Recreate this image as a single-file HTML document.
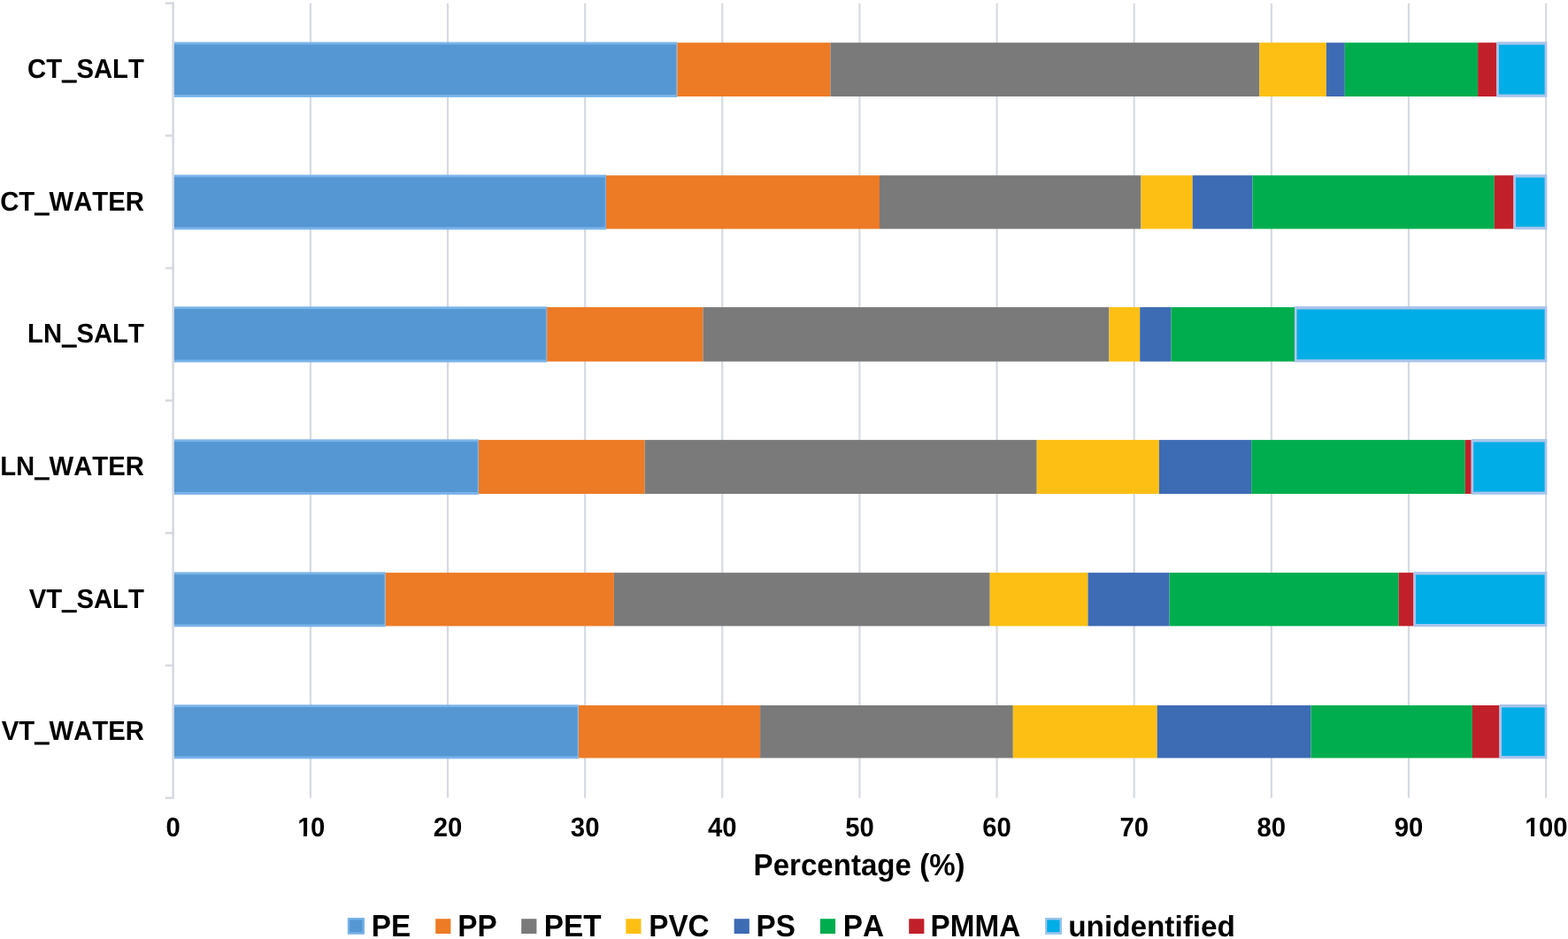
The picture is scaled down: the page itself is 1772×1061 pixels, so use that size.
<!DOCTYPE html>
<html><head><meta charset="utf-8"><title>Percentage chart</title><style>
html,body{margin:0;padding:0;background:#fff;}
body{width:1772px;height:1061px;overflow:hidden;}
svg{display:block;}
text{font-family:"Liberation Sans",Arial,sans-serif;font-weight:bold;fill:#000;font-kerning:none;font-feature-settings:"kern" 0;text-rendering:geometricPrecision;}
.cat{font-size:29.3px;}
.tick{font-size:29.3px;}
.title{font-size:33.1px;}
.leg{font-size:33.3px;}
</style></head><body>
<svg width="1772" height="1061" viewBox="0 0 1772 1061">
<rect x="0" y="0" width="1772" height="1061" fill="#ffffff"/>
<line x1="350.88" y1="3.65" x2="350.88" y2="901.60" stroke="#d6dae1" stroke-width="2.2"/>
<line x1="506.02" y1="3.65" x2="506.02" y2="901.60" stroke="#d6dae1" stroke-width="2.2"/>
<line x1="661.15" y1="3.65" x2="661.15" y2="901.60" stroke="#d6dae1" stroke-width="2.2"/>
<line x1="816.29" y1="3.65" x2="816.29" y2="901.60" stroke="#d6dae1" stroke-width="2.2"/>
<line x1="971.42" y1="3.65" x2="971.42" y2="901.60" stroke="#d6dae1" stroke-width="2.2"/>
<line x1="1126.56" y1="3.65" x2="1126.56" y2="901.60" stroke="#d6dae1" stroke-width="2.2"/>
<line x1="1281.69" y1="3.65" x2="1281.69" y2="901.60" stroke="#d6dae1" stroke-width="2.2"/>
<line x1="1436.83" y1="3.65" x2="1436.83" y2="901.60" stroke="#d6dae1" stroke-width="2.2"/>
<line x1="1591.96" y1="3.65" x2="1591.96" y2="901.60" stroke="#d6dae1" stroke-width="2.2"/>
<line x1="1747.10" y1="3.65" x2="1747.10" y2="901.60" stroke="#d6dae1" stroke-width="2.2"/>
<line x1="195.6" y1="2.45" x2="195.6" y2="902.80" stroke="#d6d9e0" stroke-width="2.6"/>
<line x1="186.9" y1="3.65" x2="196.2" y2="3.65" stroke="#d6d9e0" stroke-width="2.5"/>
<line x1="186.9" y1="153.31" x2="196.2" y2="153.31" stroke="#d6d9e0" stroke-width="2.5"/>
<line x1="186.9" y1="302.97" x2="196.2" y2="302.97" stroke="#d6d9e0" stroke-width="2.5"/>
<line x1="186.9" y1="452.62" x2="196.2" y2="452.62" stroke="#d6d9e0" stroke-width="2.5"/>
<line x1="186.9" y1="602.28" x2="196.2" y2="602.28" stroke="#d6d9e0" stroke-width="2.5"/>
<line x1="186.9" y1="751.94" x2="196.2" y2="751.94" stroke="#d6d9e0" stroke-width="2.5"/>
<line x1="186.9" y1="901.60" x2="196.2" y2="901.60" stroke="#d6d9e0" stroke-width="2.5"/>
<rect x="196.90" y="47.50" width="568.40" height="62.40" fill="#79b3e9"/>
<rect x="196.90" y="50.30" width="567.10" height="56.70" fill="#5597d3"/>
<rect x="765.30" y="48.20" width="173.20" height="60.80" fill="#ed7a25"/>
<rect x="938.50" y="48.20" width="484.80" height="60.80" fill="#7a7a7a"/>
<rect x="1423.30" y="48.20" width="75.60" height="60.80" fill="#fdbf13"/>
<rect x="1498.90" y="48.20" width="20.90" height="60.80" fill="#3d6bb4"/>
<rect x="1519.80" y="48.20" width="150.30" height="60.80" fill="#00ad4e"/>
<rect x="1670.10" y="48.20" width="21.30" height="60.80" fill="#c1202a"/>
<rect x="1691.40" y="47.20" width="56.90" height="62.60" fill="#a9c4ec"/>
<rect x="1693.90" y="50.60" width="51.70" height="56.00" fill="#00ade6"/>
<text transform="translate(31.05 88.00) scale(1 1.045)" class="cat">CT_SALT</text>
<rect x="69.81" y="90.70" width="16.9" height="2.9" fill="#000"/>
<rect x="196.90" y="197.50" width="488.10" height="62.00" fill="#79b3e9"/>
<rect x="196.90" y="200.30" width="486.80" height="56.30" fill="#5597d3"/>
<rect x="685.00" y="198.20" width="309.00" height="60.40" fill="#ed7a25"/>
<rect x="994.00" y="198.20" width="295.50" height="60.40" fill="#7a7a7a"/>
<rect x="1289.50" y="198.20" width="58.20" height="60.40" fill="#fdbf13"/>
<rect x="1347.70" y="198.20" width="67.80" height="60.40" fill="#3d6bb4"/>
<rect x="1415.50" y="198.20" width="273.30" height="60.40" fill="#00ad4e"/>
<rect x="1688.80" y="198.20" width="21.70" height="60.40" fill="#c1202a"/>
<rect x="1710.50" y="197.20" width="37.80" height="62.20" fill="#a9c4ec"/>
<rect x="1713.00" y="200.60" width="32.60" height="55.60" fill="#00ade6"/>
<text transform="translate(0.13 237.90) scale(1 1.045)" class="cat">CT_WATER</text>
<rect x="38.89" y="240.60" width="16.9" height="2.9" fill="#000"/>
<rect x="196.90" y="346.40" width="421.20" height="63.00" fill="#79b3e9"/>
<rect x="196.90" y="349.20" width="419.90" height="57.30" fill="#5597d3"/>
<rect x="618.10" y="347.10" width="176.40" height="61.40" fill="#ed7a25"/>
<rect x="794.50" y="347.10" width="458.90" height="61.40" fill="#7a7a7a"/>
<rect x="1253.40" y="347.10" width="34.80" height="61.40" fill="#fdbf13"/>
<rect x="1288.20" y="347.10" width="35.20" height="61.40" fill="#3d6bb4"/>
<rect x="1323.40" y="347.10" width="139.70" height="61.40" fill="#00ad4e"/>
<rect x="1463.10" y="346.10" width="285.20" height="63.20" fill="#a9c4ec"/>
<rect x="1465.60" y="349.50" width="280.00" height="56.60" fill="#00ade6"/>
<text transform="translate(31.05 387.04) scale(1 1.045)" class="cat">LN_SALT</text>
<rect x="69.81" y="389.74" width="16.9" height="2.9" fill="#000"/>
<rect x="196.90" y="496.40" width="344.00" height="62.50" fill="#79b3e9"/>
<rect x="196.90" y="499.20" width="342.70" height="56.80" fill="#5597d3"/>
<rect x="540.90" y="497.10" width="187.70" height="60.90" fill="#ed7a25"/>
<rect x="728.60" y="497.10" width="443.10" height="60.90" fill="#7a7a7a"/>
<rect x="1171.70" y="497.10" width="138.20" height="60.90" fill="#fdbf13"/>
<rect x="1309.90" y="497.10" width="104.30" height="60.90" fill="#3d6bb4"/>
<rect x="1414.20" y="497.10" width="241.60" height="60.90" fill="#00ad4e"/>
<rect x="1655.80" y="497.10" width="6.90" height="60.90" fill="#c1202a"/>
<rect x="1662.70" y="496.10" width="85.60" height="62.70" fill="#a9c4ec"/>
<rect x="1665.20" y="499.50" width="80.40" height="56.10" fill="#00ade6"/>
<text transform="translate(0.13 536.80) scale(1 1.045)" class="cat">LN_WATER</text>
<rect x="38.89" y="539.50" width="16.9" height="2.9" fill="#000"/>
<rect x="196.90" y="646.40" width="238.80" height="61.90" fill="#79b3e9"/>
<rect x="196.90" y="649.20" width="237.50" height="56.20" fill="#5597d3"/>
<rect x="435.70" y="647.10" width="258.20" height="60.30" fill="#ed7a25"/>
<rect x="693.90" y="647.10" width="424.80" height="60.30" fill="#7a7a7a"/>
<rect x="1118.70" y="647.10" width="110.80" height="60.30" fill="#fdbf13"/>
<rect x="1229.50" y="647.10" width="92.10" height="60.30" fill="#3d6bb4"/>
<rect x="1321.60" y="647.10" width="259.00" height="60.30" fill="#00ad4e"/>
<rect x="1580.60" y="647.10" width="16.90" height="60.30" fill="#c1202a"/>
<rect x="1597.50" y="646.10" width="150.80" height="62.10" fill="#a9c4ec"/>
<rect x="1600.00" y="649.50" width="145.60" height="55.50" fill="#00ade6"/>
<text transform="translate(32.67 686.60) scale(1 1.045)" class="cat">VT_SALT</text>
<rect x="69.81" y="689.30" width="16.9" height="2.9" fill="#000"/>
<rect x="196.90" y="796.30" width="456.90" height="61.10" fill="#79b3e9"/>
<rect x="196.90" y="799.10" width="455.60" height="55.40" fill="#5597d3"/>
<rect x="653.80" y="797.00" width="205.30" height="59.50" fill="#ed7a25"/>
<rect x="859.10" y="797.00" width="285.70" height="59.50" fill="#7a7a7a"/>
<rect x="1144.80" y="797.00" width="162.90" height="59.50" fill="#fdbf13"/>
<rect x="1307.70" y="797.00" width="173.80" height="59.50" fill="#3d6bb4"/>
<rect x="1481.50" y="797.00" width="182.50" height="59.50" fill="#00ad4e"/>
<rect x="1664.00" y="797.00" width="30.50" height="59.50" fill="#c1202a"/>
<rect x="1694.50" y="796.00" width="53.80" height="61.30" fill="#a9c4ec"/>
<rect x="1697.00" y="799.40" width="48.60" height="54.70" fill="#00ade6"/>
<text transform="translate(1.75 835.90) scale(1 1.045)" class="cat">VT_WATER</text>
<rect x="38.89" y="838.60" width="16.9" height="2.9" fill="#000"/>
<text transform="translate(187.60 945.3) scale(1 1.045)" class="tick">0</text>
<text transform="translate(334.59 945.3) scale(1 1.045)" class="tick"><tspan dx="1.572">1</tspan><tspan dx="-1.572">0</tspan></text>
<rect x="337" y="941.18" width="6" height="5.12" fill="#fff"/>
<rect x="347" y="941.18" width="5" height="5.12" fill="#fff"/>
<text transform="translate(489.72 945.3) scale(1 1.045)" class="tick">20</text>
<text transform="translate(644.86 945.3) scale(1 1.045)" class="tick">30</text>
<text transform="translate(799.99 945.3) scale(1 1.045)" class="tick">40</text>
<text transform="translate(955.13 945.3) scale(1 1.045)" class="tick">50</text>
<text transform="translate(1110.26 945.3) scale(1 1.045)" class="tick">60</text>
<text transform="translate(1265.40 945.3) scale(1 1.045)" class="tick">70</text>
<text transform="translate(1420.53 945.3) scale(1 1.045)" class="tick">80</text>
<text transform="translate(1575.67 945.3) scale(1 1.045)" class="tick">90</text>
<text transform="translate(1722.66 945.3) scale(1 1.045)" class="tick"><tspan dx="0.504">1</tspan><tspan dx="-0.504">00</tspan></text>
<rect x="1724" y="941.18" width="6" height="5.12" fill="#fff"/>
<rect x="1734" y="941.18" width="6" height="5.12" fill="#fff"/>
<text transform="translate(971.1 989.2) scale(1 1.045)" text-anchor="middle" class="title">Percentage (%)</text>
<rect x="392.90" y="1037.2" width="18.8" height="18.3" fill="#5597d3"/>
<rect x="394.00" y="1038.3" width="16.6" height="16.1" fill="none" stroke="#79b3e9" stroke-width="2.2"/>
<text transform="translate(419.87 1057.6) scale(1 1.045)" class="leg">PE</text>
<rect x="492.20" y="1038.2" width="17.2" height="16.8" fill="#ed7a25"/>
<text transform="translate(517.37 1057.6) scale(1 1.045)" class="leg">PP</text>
<rect x="589.20" y="1038.2" width="17.2" height="16.8" fill="#7a7a7a"/>
<text transform="translate(614.82 1057.6) scale(1 1.045)" class="leg">PET</text>
<rect x="707.30" y="1038.2" width="17.2" height="16.8" fill="#fdbf13"/>
<text transform="translate(733.20 1057.6) scale(1 1.045)" class="leg">PVC</text>
<rect x="829.65" y="1038.2" width="17.2" height="16.8" fill="#3d6bb4"/>
<text transform="translate(854.60 1057.6) scale(1 1.045)" class="leg">PS</text>
<rect x="926.90" y="1038.2" width="17.2" height="16.8" fill="#00ad4e"/>
<text transform="translate(952.70 1057.6) scale(1 1.045)" class="leg">PA</text>
<rect x="1027.20" y="1038.2" width="17.2" height="16.8" fill="#c1202a"/>
<text transform="translate(1051.50 1057.6) scale(1 1.045)" class="leg">PMMA</text>
<rect x="1181.00" y="1037.2" width="18.8" height="18.3" fill="#00ade6"/>
<rect x="1182.10" y="1038.3" width="16.6" height="16.1" fill="none" stroke="#a9c4ec" stroke-width="2.2"/>
<text transform="translate(1207.20 1057.6) scale(1 1.0)" class="leg">unidentified</text>
</svg>
</body></html>
